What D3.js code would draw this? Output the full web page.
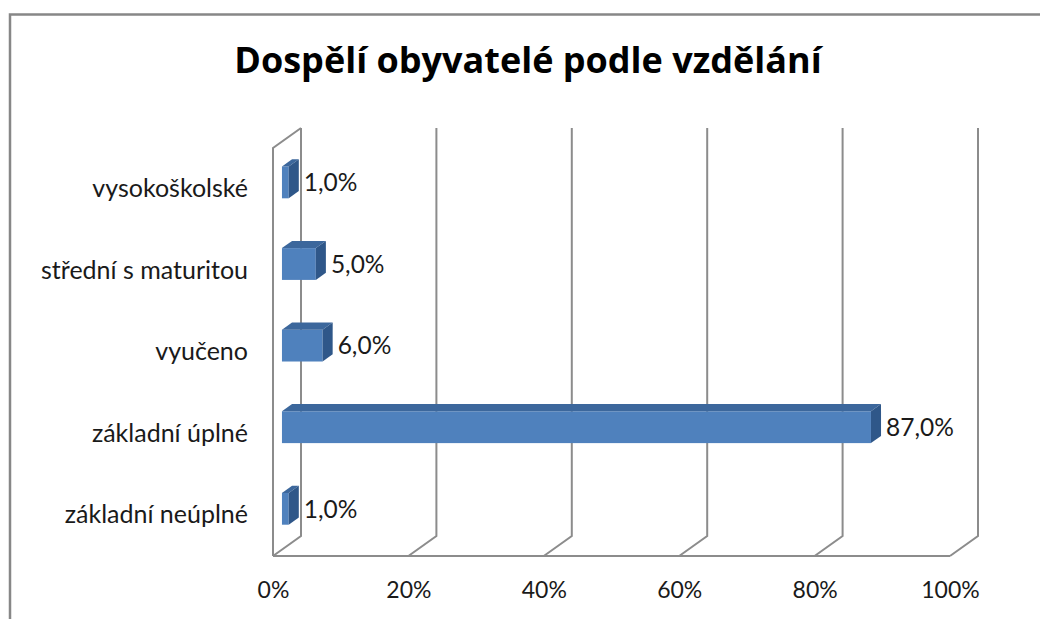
<!DOCTYPE html>
<html>
<head>
<meta charset="utf-8">
<script src="https://cdn.jsdelivr.net/npm/d3@7"></script>
<style>
  body { margin: 0; background: #fff; }
  text { font-family: Lato, "Open Sans", sans-serif; fill: #1a1a1a; }
</style>
</head>
<body>
<div class="chart"></div>
<script>
// chart data (first category is drawn at the bottom, like Excel does)
var categories = ["základní neúplné", "základní úplné", "vyučeno", "střední s maturitou", "vysokoškolské"];
var values = [0.01, 0.87, 0.06, 0.05, 0.01];
var tickValues = [0, 0.2, 0.4, 0.6, 0.8, 1];
var title = "Dospělí obyvatelé podle vzdělání";

var svgWidth = 1040;
var svgHeight = 619;

// front plane of the 3D box
var plot = { left: 273, right: 950, top: 148, bottom: 556 };
// depth vector of the box
var DX = 28, DY = -20;
// bars sit in the middle of the depth
var z0 = 0.32, z1 = 0.68;

var czLocale = d3.formatLocale({ decimal: ",", thousands: " ", grouping: [3], currency: ["", " Kč"] });
var pct1 = czLocale.format(".1%");

var svg = d3.select(".chart")
  .append("svg")
  .attr("width", svgWidth)
  .attr("height", svgHeight);

// outer chart border (right and bottom run off the picture)
svg.append("rect")
  .attr("x", 10)
  .attr("y", 14.5)
  .attr("width", 1060)
  .attr("height", 640)
  .attr("fill", "#fff")
  .attr("stroke", "#878787")
  .attr("stroke-width", 2.5);

svg.append("text")
  .attr("x", 528)
  .attr("y", 73)
  .attr("text-anchor", "middle")
  .style("font-family", "'Open Sans', Lato, sans-serif")
  .style("font-weight", "bold")
  .style("font-size", "36px")
  .style("fill", "#000")
  .text(title);

var xScale = d3.scaleLinear()
  .domain([0, 1])
  .range([plot.left, plot.right]);

var yScale = d3.scaleBand()
  .domain(categories.slice().reverse())
  .range([plot.top, plot.bottom])
  .paddingInner(0.61)
  .paddingOuter(0.305);

var grid = svg.append("g")
  .attr("fill", "none")
  .attr("stroke", "#8c8c8c")
  .attr("stroke-width", 2);

// back wall + floor gridlines
grid.selectAll("path.grid")
  .data(tickValues)
  .enter()
  .append("path")
  .attr("class", "grid")
  .attr("d", function(d) {
    var xf = xScale(d);
    return "M" + (xf + DX) + "," + (plot.top + DY) +
      "L" + (xf + DX) + "," + (plot.bottom + DY) +
      "L" + xf + "," + plot.bottom;
  });

// floor front edge
grid.append("path")
  .attr("d", "M" + xScale(0) + "," + plot.bottom + "L" + xScale(1) + "," + plot.bottom);

// side wall on the left
grid.append("path")
  .attr("d", "M" + xScale(0) + "," + plot.bottom +
    "L" + xScale(0) + "," + plot.top +
    "L" + (xScale(0) + DX) + "," + (plot.top + DY));

// bars
var bw = yScale.bandwidth();
var ddx = (z1 - z0) * DX, ddy = (z1 - z0) * DY;

var barGroups = svg.selectAll("g.bar")
  .data(categories.map(function(c, i) { return { cat: c, value: values[i] }; }))
  .enter()
  .append("g")
  .attr("class", "bar");

function frontX0() { return xScale(0) + z0 * DX; }
function frontX1(d) { return xScale(d.value) + z0 * DX; }
function frontY0(d) { return yScale(d.cat) + z0 * DY; }

barGroups.append("rect")
  .attr("x", frontX0)
  .attr("y", frontY0)
  .attr("width", function(d) { return frontX1(d) - frontX0(); })
  .attr("height", bw)
  .attr("fill", "#4f81bd");

barGroups.append("path")
  .attr("fill", "#3c679c")
  .attr("d", function(d) {
    var xa = frontX0(), xb = frontX1(d), yt = frontY0(d);
    return "M" + xa + "," + yt + "L" + xb + "," + yt +
      "L" + (xb + ddx) + "," + (yt + ddy) +
      "L" + (xa + ddx) + "," + (yt + ddy) + "Z";
  });

barGroups.append("path")
  .attr("fill", "#2f5789")
  .attr("d", function(d) {
    var xb = frontX1(d), yt = frontY0(d), yb = yt + bw;
    return "M" + xb + "," + yt + "L" + (xb + ddx) + "," + (yt + ddy) +
      "L" + (xb + ddx) + "," + (yb + ddy) + "L" + xb + "," + yb + "Z";
  });

// value labels
barGroups.append("text")
  .attr("x", function(d) { return frontX1(d) + ddx + 5; })
  .attr("y", function(d) { return frontY0(d) + bw / 2; })
  .attr("dy", "0.36em")
  .style("font-size", "24.5px")
  .text(function(d) { return pct1(d.value); });

// category axis
var leftAxis = d3.axisLeft(yScale).tickSize(0).tickPadding(0);
var yAxis = svg.append("g")
  .attr("transform", "translate(248,0)")
  .call(leftAxis);
yAxis.select(".domain").remove();
yAxis.selectAll("text")
  .attr("dy", "0.33em")
  .style("font-size", "25px");

// value axis
var bottomAxis = d3.axisBottom(xScale)
  .tickValues(tickValues)
  .tickFormat(d3.format(".0%"))
  .tickSize(0);
var xAxis = svg.append("g")
  .attr("transform", "translate(0," + plot.bottom + ")")
  .call(bottomAxis);
xAxis.select(".domain").remove();
xAxis.selectAll("text")
  .attr("y", 42)
  .attr("dy", 0)
  .style("font-size", "23px");
xAxis.attr("font-family", null);
yAxis.attr("font-family", null);
</script>
</body>
</html>
